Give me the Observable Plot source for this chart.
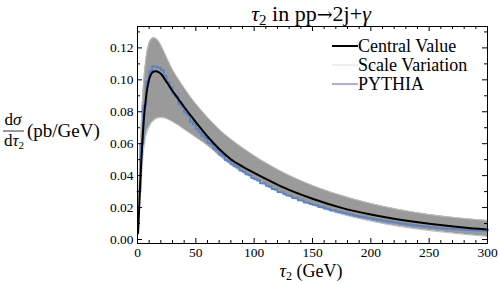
<!DOCTYPE html>
<html><head><meta charset="utf-8">
<script src="https://cdn.jsdelivr.net/npm/d3@7"></script>
<script src="https://cdn.jsdelivr.net/npm/@observablehq/plot@0.6"></script>
<style>
body{margin:0;background:#fff}
#wrap{position:relative;width:498px;height:284px;font-family:'Liberation Serif',serif}
#over{position:absolute;left:0;top:0;pointer-events:none;font-family:'Liberation Serif',serif}
</style></head><body><div id="wrap"></div>
<script>
// tau2 grid (GeV) for the resummed prediction and its scale band
const tauGrid = [0.5,1,2,3,4,5,6,7,8,9,10,12,14,16,18,20,23,26,30,35,40,45,50,60,70,80,90,100,110,125,150,175,200,225,250,275,300];
const central = [0.004,0.012,0.030,0.045,0.059,0.071,0.080,0.087,0.093,0.097,0.1005,0.1040,0.1052,0.1054,0.1048,0.1038,0.1008,0.0975,0.0930,0.0880,0.0830,0.0782,0.0735,0.0645,0.0567,0.0503,0.0457,0.0418,0.0380,0.0326,0.0255,0.0198,0.0157,0.0124,0.0099,0.0078,0.0062];
const scaleHigh = [0.008,0.022,0.048,0.068,0.084,0.096,0.105,0.1115,0.117,0.1205,0.123,0.1255,0.1263,0.1258,0.1242,0.1218,0.1172,0.1125,0.1065,0.1005,0.0950,0.0897,0.0850,0.0765,0.0690,0.0628,0.0575,0.0525,0.0480,0.0420,0.0338,0.0275,0.0225,0.0186,0.0156,0.0135,0.0119];
const scaleLow = [0.003,0.009,0.022,0.034,0.045,0.054,0.060,0.064,0.067,0.069,0.0705,0.0730,0.0746,0.0756,0.0761,0.0763,0.0761,0.0753,0.0738,0.0716,0.0690,0.0665,0.0640,0.0588,0.0525,0.0466,0.0422,0.0385,0.0346,0.0292,0.0216,0.0158,0.0115,0.0081,0.0056,0.0036,0.0019];
// PYTHIA histogram, 2.5 GeV bins starting at 0
const pythiaBin = 2.5;
const pythia = [0.030,0.060,0.084,0.099,0.1055,0.1085,0.108,0.1075,0.1062,0.1025,
0.0985,0.0955,0.0915,0.0895,0.0850,0.0832,0.0795,0.0778,0.0738,0.0722,
0.0690,0.0672,0.0648,0.0636,0.0605,0.0598,0.0568,0.0560,0.0532,0.0525,
0.0498,0.0492,0.0474,0.0460,0.0452,0.0432,0.0425,0.0408,0.0402,0.0385,
0.0378,0.0370,0.0352,0.0350,0.0336,0.0330,0.0316,0.0312,0.0298,0.0296,
0.0285,0.0276,0.0272,0.0260,0.0258,0.0246,0.0244,0.0232,0.0230,0.0222,
0.0218,0.0214,0.0204,0.0203,0.0194,0.0192,0.0184,0.0183,0.0175,0.0172,
0.0167,0.0164,0.0158,0.0157,0.0150,0.0148,0.0143,0.0142,0.0136,0.0134,
0.0131,0.0127,0.0124,0.0122,0.0117,0.0116,0.0112,0.0109,0.0107,0.0103,
0.0101,0.0099,0.0095,0.0094,0.0090,0.0089,0.0085,0.0084,0.0081,0.0080,
0.0077,0.0076,0.0074,0.0072,0.0071,0.0069,0.0068,0.0067,0.0066,0.0064,
0.0064,0.0062,0.0061,0.0060,0.0059,0.0058,0.0057,0.0057,0.0055,0.0055];
const xMajor = [0,50,100,150,200,250,300];
const xMinor = [10,20,30,40,60,70,80,90,110,120,130,140,160,170,180,190,210,220,230,240,260,270,280,290];
const yMajor = [0,0.02,0.04,0.06,0.08,0.10,0.12];
const yMinor = [0.01,0.03,0.05,0.07,0.09,0.11,0.13];
const legendLabels = ["Central Value", "Scale Variation", "PYTHIA"];

const band = tauGrid.map((t,i)=>({t, c: central[i], lo: scaleLow[i], hi: scaleHigh[i]}));
const py = pythia.map((v,i)=>({t: i*pythiaBin, v}));
py.push({t: pythia.length*pythiaBin, v: pythia[pythia.length-1]});

const W=498, H=284, mL=137, mR=11, mT=26, mB=41;
const iW=W-mL-mR, iH=H-mT-mB;
const serif = "Liberation Serif";

const chart = Plot.plot({
  width: W, height: H, marginLeft: mL, marginRight: mR, marginTop: mT, marginBottom: mB,
  style: {fontFamily: serif, fontSize: "13.5px", color: "black", background: "white"},
  x: {domain: [0,300]},
  y: {domain: [-0.0025, 0.1334]},
  marks: [
    Plot.areaY(band, {x: "t", y1: "lo", y2: "hi", fill: "#9a9a9a", curve: "monotone-x"}),
    Plot.lineY(band, {x: "t", y: "lo", stroke: "#bdbdbd", strokeWidth: 1, curve: "monotone-x"}),
    Plot.lineY(band, {x: "t", y: "hi", stroke: "#bdbdbd", strokeWidth: 1, curve: "monotone-x"}),
    Plot.lineY(py, {x: "t", y: "v", stroke: "#5a84c6", strokeWidth: 2, curve: "step-after"}),
    Plot.lineY(band, {x: "t", y: "c", stroke: "black", strokeWidth: 2, curve: "monotone-x"}),
    Plot.frame({stroke: "black", strokeWidth: 1}),
    Plot.tickX(xMajor, {x: d=>d, insetTop: iH-5, stroke: "black"}),
    Plot.tickX(xMinor, {x: d=>d, insetTop: iH-3, stroke: "black"}),
    Plot.tickX(xMajor, {x: d=>d, insetBottom: iH-5, stroke: "black"}),
    Plot.tickX(xMinor, {x: d=>d, insetBottom: iH-3, stroke: "black"}),
    Plot.tickY(yMajor, {y: d=>d, insetRight: iW-5, stroke: "black"}),
    Plot.tickY(yMinor, {y: d=>d, insetRight: iW-3, stroke: "black"}),
    Plot.tickY(yMajor, {y: d=>d, insetLeft: iW-5, stroke: "black"}),
    Plot.tickY(yMinor, {y: d=>d, insetLeft: iW-3, stroke: "black"}),
    Plot.axisX(xMajor, {tickSize: 0, tickPadding: 4, label: null, fontFamily: serif, fontSize: 13.5}),
    Plot.axisY(yMajor, {tickSize: 0, tickPadding: 4, tickFormat: d3.format(".2f"), label: null, fontFamily: serif, fontSize: 13.5})
  ]
});
const wrap = document.getElementById("wrap");
wrap.appendChild(chart);

// overlay texts: title, axis labels, legend
const over = d3.select(wrap).append("svg").attr("id","over").attr("width",W).attr("height",H)
  .attr("font-family", serif);
// title
const t = over.append("text").attr("x", 311).attr("y", 21).attr("text-anchor","middle").attr("font-size", 22);
t.append("tspan").attr("font-style","italic").text("τ");
t.append("tspan").attr("font-size", 15).attr("dy", 4).text("2");
t.append("tspan").attr("dy", -4).text(" in pp");
t.append("tspan").attr("font-family", "DejaVu Serif").attr("font-size", 19).text("→");
t.append("tspan").text("2j+");
t.append("tspan").attr("font-style","italic").text("γ");
// x label
const xl = over.append("text").attr("x", 311).attr("y", 277).attr("text-anchor","middle").attr("font-size", 18);
xl.append("tspan").attr("font-style","italic").text("τ");
xl.append("tspan").attr("font-size", 12).attr("dy", 3).text("2");
xl.append("tspan").attr("dy", -3).text(" (GeV)");
// y label fraction
const num = over.append("text").attr("x", 13).attr("y", 125).attr("text-anchor","middle").attr("font-size", 17);
num.append("tspan").text("d");
num.append("tspan").attr("font-style","italic").text("σ");
over.append("line").attr("x1", 3).attr("x2", 24).attr("y1", 131).attr("y2", 131).attr("stroke","black").attr("stroke-width", 0.8);
const den = over.append("text").attr("x", 14).attr("y", 146).attr("text-anchor","middle").attr("font-size", 17);
den.append("tspan").text("d");
den.append("tspan").attr("font-style","italic").text("τ");
den.append("tspan").attr("font-size", 11).attr("dy", 3).text("2");
over.append("text").attr("x", 27).attr("y", 137).attr("font-size", 19).text("(pb/GeV)");
// legend
const legendStyle = [
  {color: "black", w: 2},
  {color: "#e2e2e2", w: 1.2},
  {color: "#5a5ae6", w: 1}
];
legendLabels.forEach((label,i)=>{
  const y = 46 + i*19;
  over.append("line").attr("x1", 332).attr("x2", 358).attr("y1", y).attr("y2", y).attr("stroke", legendStyle[i].color).attr("stroke-width", legendStyle[i].w);
  over.append("text").attr("x", 358).attr("y", y+6).attr("font-size", 18).text(label);
});
</script></body></html>
